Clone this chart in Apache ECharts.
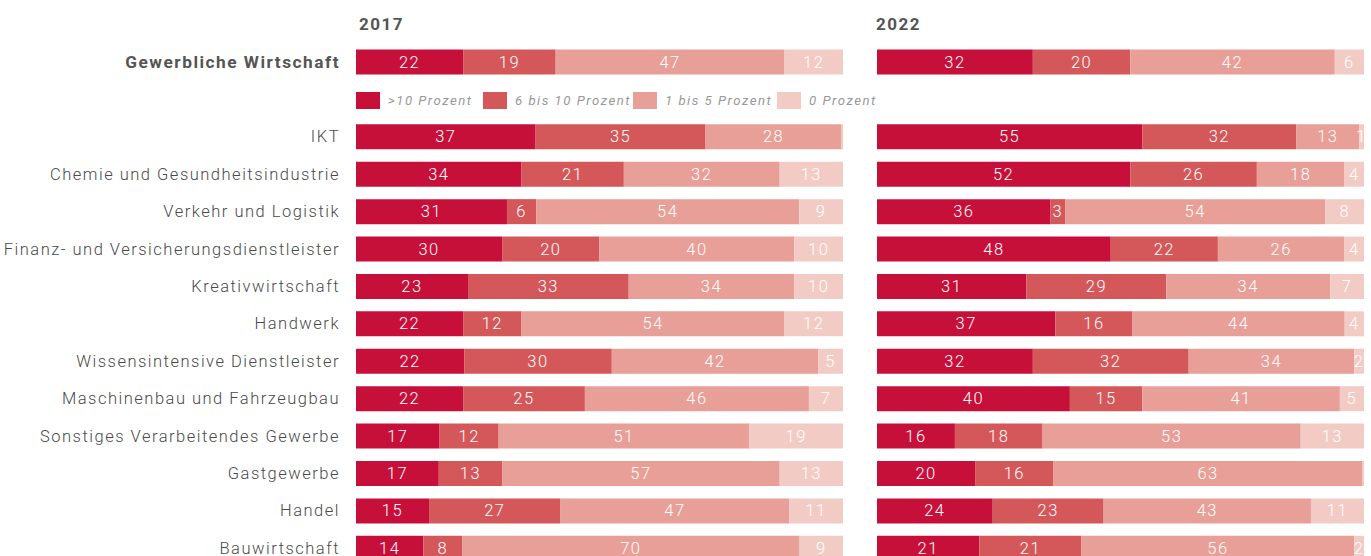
<!DOCTYPE html>
<html>
<head>
<meta charset="utf-8">
<script src="https://cdn.jsdelivr.net/npm/echarts@6/dist/echarts.min.js"></script>
<style>html,body{margin:0;padding:0;background:#fff;overflow:hidden}#c{width:1371px;height:567px;letter-spacing:1.5px}</style>
</head>
<body>
<div id="c"></div>
<script>
// Categories (the empty entry is the slot occupied by the legend)
const categories = ['Gewerbliche Wirtschaft', '', 'IKT', 'Chemie und Gesundheitsindustrie', 'Verkehr und Logistik',
  'Finanz- und Versicherungsdienstleister', 'Kreativwirtschaft', 'Handwerk', 'Wissensintensive Dienstleister',
  'Maschinenbau und Fahrzeugbau', 'Sonstiges Verarbeitendes Gewerbe', 'Gastgewerbe', 'Handel', 'Bauwirtschaft'];
const seriesNames = ['>10 Prozent', '6 bis 10 Prozent', '1 bis 5 Prozent', '0 Prozent'];
const panelTitles = ['2017', '2022'];

// 2017 values per category
const y2017_gt10  = [22, null, 37, 34, 31, 30, 23, 22, 22, 22, 17, 17, 15, 14];
const y2017_6to10 = [19, null, 35, 21,  6, 20, 33, 12, 30, 25, 12, 13, 27,  8];
const y2017_1to5  = [47, null, 28, 32, 54, 40, 34, 54, 42, 46, 51, 57, 47, 70];
const y2017_0     = [12, null, 0.3, 13, 9, 10, 10, 12,  5,  7, 19, 13, 11,  9];

// 2022 values per category
const y2022_gt10  = [32, null, 55, 52, 36, 48, 31, 37, 32, 40, 16, 20, 24, 21];
const y2022_6to10 = [20, null, 32, 26,  3, 22, 29, 16, 32, 15, 18, 16, 23, 21];
const y2022_1to5  = [42, null, 13, 18, 54, 26, 34, 44, 34, 41, 53, 63, 43, 56];
const y2022_0     = [ 6, null,  1,  4,  8,  4,  7,  4,  2,  5, 13, 0.3, 11, 2];

const colors = ['#C6103A', '#D4585A', '#E89F98', '#F3CBC5'];
const FONT = 'Roboto';
const legendLefts = [356, 483, 633, 777];

function normalize(cols) {
  return cols.map(col => col.map((v, i) => {
    if (v == null) return '-';
    let s = 0; cols.forEach(c => { s += c[i] || 0; });
    return { value: v / s * 100, raw: v };
  }));
}
const panels = [
  normalize([y2017_gt10, y2017_6to10, y2017_1to5, y2017_0]),
  normalize([y2022_gt10, y2022_6to10, y2022_1to5, y2022_0])
];

const grids = [
  { left: 356, width: 487, top: 43.3, bottom: 0 },
  { left: 877, width: 487, top: 43.3, bottom: 0 }
];
const xAxes = grids.map((g, i) => ({ type: 'value', gridIndex: i, min: 0, max: 100, show: false }));
const yAxes = grids.map((g, i) => ({
  type: 'category', gridIndex: i, data: categories, inverse: true,
  axisLine: { show: false }, axisTick: { show: false }, splitLine: { show: false },
  axisLabel: i === 0 ? {
    show: true, margin: 16, color: '#4a4a4a', fontFamily: FONT, fontSize: 16.5, fontWeight: 300,
    formatter: (v, idx) => idx === 0 ? '{b|' + v + '}' : v,
    rich: { b: { fontWeight: 'bold', color: '#555', fontFamily: FONT, fontSize: 17.3 } }
  } : { show: false }
}));

const series = [];
panels.forEach((cols, p) => {
  cols.forEach((data, k) => {
    series.push({
      name: seriesNames[k], type: 'bar', stack: 'p' + p, xAxisIndex: p, yAxisIndex: p,
      barWidth: 25, data: data, itemStyle: { color: colors[k] },
      label: {
        show: true, position: 'inside', color: '#fff', fontFamily: FONT, fontSize: 16.5, fontWeight: 300,
        formatter: prm => (prm.data && prm.data.raw >= 1) ? String(prm.data.raw) : ''
      },
      emphasis: { disabled: true }, animation: false
    });
  });
});

const chart = echarts.init(document.getElementById('c'), null, { renderer: 'svg' });
chart.setOption({
  animation: false,
  color: colors,
  title: panelTitles.map((t, i) => ({
    text: t, left: i === 0 ? 359 : 876, top: 15, padding: 0,
    textStyle: { fontFamily: FONT, fontSize: 17, fontWeight: 'bold', color: '#555' }
  })),
  legend: seriesNames.map((n, i) => ({
    data: [n], left: legendLefts[i], top: 92, padding: 0, itemWidth: 24, itemHeight: 17,
    icon: 'rect', selectedMode: false,
    textStyle: { fontFamily: FONT, fontSize: 13.2, fontStyle: 'italic', fontWeight: 400, color: '#999', padding: [0, 0, 0, 3] }
  })),
  grid: grids,
  xAxis: xAxes,
  yAxis: yAxes,
  series: series
});
</script>
</body>
</html>
